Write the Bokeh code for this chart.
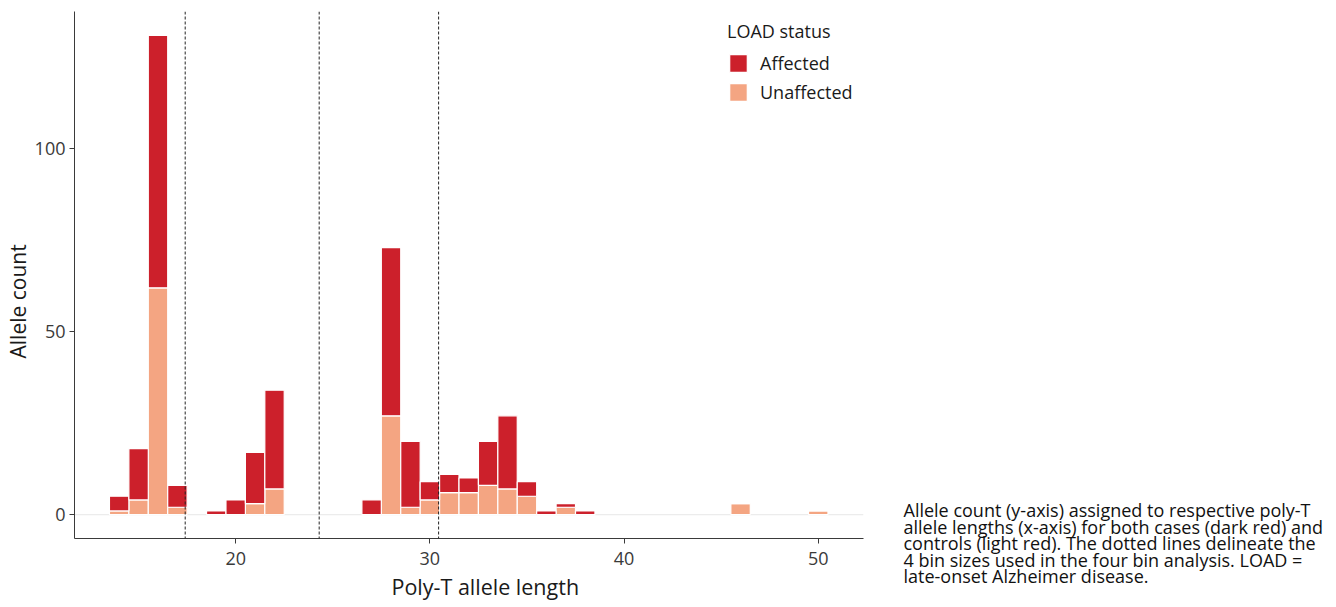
import numpy as np
from bokeh.plotting import figure
from bokeh.layouts import row
from bokeh.models import (ColumnDataSource, Range1d, FixedTicker, Span, Label,
                          Legend, LegendItem, Title)
from bokeh.embed import file_html
from bokeh.resources import INLINE

# ---- data ----
allele_length = [14, 15, 16, 17, 19, 20, 21, 22, 27, 28, 29, 30, 31, 32, 33, 34, 35, 36, 37, 38, 46, 50]
unaffected = [1, 4, 62, 2, 0, 0, 3, 7, 0, 27, 2, 4, 6, 6, 8, 7, 5, 0, 2, 0, 3, 1]
affected = [4, 14, 69, 6, 1, 4, 14, 27, 4, 46, 18, 5, 5, 4, 12, 20, 4, 1, 1, 1, 0, 0]
bin_cutoffs = [17.4, 24.3, 30.45]
x_ticks = [20, 30, 40, 50]
y_ticks = [0, 50, 100]
status_labels = ["Affected", "Unaffected"]
caption_lines = [
    "Allele count (y-axis) assigned to respective poly-T",
    "allele lengths (x-axis) for both cases (dark red) and",
    "controls (light red). The dotted lines delineate the",
    "4 bin sizes used in the four bin analysis. LOAD =",
    "late-onset Alzheimer disease.",
]

FONT = "Open Sans"
AFF = "#cc202b"
UNAFF = "#f4a582"
H = 607
W1 = 880
W2 = 448

src = ColumnDataSource(dict(x=allele_length, unaffected=unaffected, affected=affected))

p = figure(width=W1, height=H, output_backend="svg", toolbar_location=None,
           x_range=Range1d(11.7, 52.33), y_range=Range1d(-6.55, 137.55),
           min_border_left=74, min_border_right=W1 - 863, min_border_top=11,
           min_border_bottom=H - 538)
p.outline_line_color = None
p.xgrid.visible = False
p.ygrid.visible = False
p.background_fill_color = "white"

# zero line behind bars
p.add_layout(Span(location=0, dimension="width", line_color="#ececec", line_width=1.2, level="underlay"))

rs = p.vbar_stack(["unaffected", "affected"], x="x", width=1, source=src,
                  color=[UNAFF, AFF], line_color="white", line_width=1.2)

for cut in bin_cutoffs:
    p.add_layout(Span(location=cut, dimension="height", line_color="#222222",
                      line_width=1, line_dash="3 2", level="overlay"))

for ax, ticks in ((p.xaxis[0], x_ticks), (p.yaxis[0], y_ticks)):
    ax.ticker = FixedTicker(ticks=ticks)
    ax.minor_tick_line_color = None
    ax.major_tick_in = 0
    ax.major_tick_out = 5
    ax.axis_line_color = "#3a3a3a"
    ax.major_tick_line_color = "#3a3a3a"
    ax.major_label_text_font = FONT
    ax.major_label_text_font_size = "18px"
    ax.major_label_text_color = "#3a3a3a"
p.xaxis[0].major_label_standoff = 8
p.yaxis[0].major_label_standoff = 4

# axis titles
p.add_layout(Title(text="Poly-T allele length", align="left", offset=317, standoff=5,
                   text_font=FONT, text_font_size="21.5px", text_font_style="normal",
                   text_color="#1a1a1a"), "below")
p.add_layout(Title(text="Allele count", align="left", offset=180, standoff=0,
                   text_font=FONT, text_font_size="21px", text_font_style="normal",
                   text_color="#1a1a1a"), "left")

# legend
legend = Legend(items=[LegendItem(label=status_labels[0], renderers=[rs[1]]),
                       LegendItem(label=status_labels[1], renderers=[rs[0]])],
                title="LOAD status", location=(653, 434))
legend.title_text_font = FONT
legend.title_text_font_size = "18px"
legend.title_text_font_style = "normal"
legend.title_text_color = "#1a1a1a"
legend.title_standoff = 8
legend.label_text_font = FONT
legend.label_text_font_size = "18px"
legend.label_text_color = "#1a1a1a"
legend.glyph_width = 22
legend.glyph_height = 22
legend.label_height = 20
legend.label_standoff = 11
legend.spacing = 5
legend.padding = 0
legend.margin = 0
legend.border_line_color = None
legend.background_fill_alpha = 0
p.add_layout(legend)

# caption panel (pixel-like coordinates matching the page)
c = figure(width=W2, height=H, output_backend="svg", toolbar_location=None,
           x_range=Range1d(W1, W1 + W2), y_range=Range1d(H, 0),
           x_axis_location=None, y_axis_location=None,
           min_border=0, min_border_left=0, min_border_right=0,
           min_border_top=0, min_border_bottom=0)
c.frame_align = False
c.grid.visible = False
c.outline_line_color = None
cap_y = [509.5, 526.1, 542.7, 559.3, 575.9]
for line, yy in zip(caption_lines, cap_y):
    c.add_layout(Label(x=903, y=yy, text=line, text_font=FONT, text_font_size="18px",
                       text_align="left", text_baseline="middle", text_color="#111111"))

layout = row(p, c, spacing=0)
open("out.html", "w").write(file_html(layout, INLINE))
